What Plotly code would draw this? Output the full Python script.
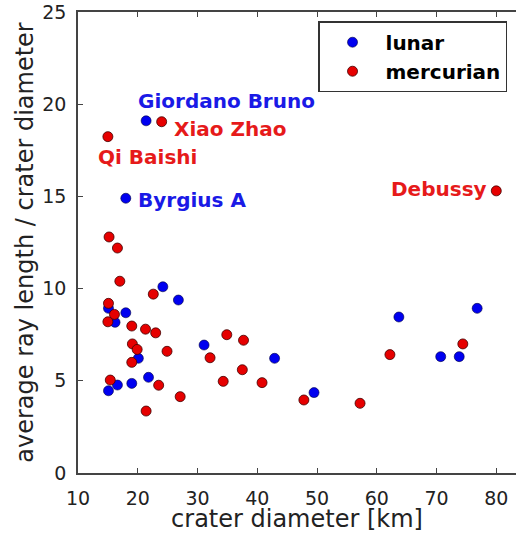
import plotly.graph_objects as go

# ---- data ----
lunar_x = [21.4, 18.0, 24.2, 26.8, 15.1, 18.0, 16.2, 31.1, 20.1, 21.8, 16.6, 19.0, 15.1,
           42.9, 63.7, 76.8, 70.7, 73.8, 49.5]
lunar_y = [19.1, 14.9, 10.1, 9.38, 8.93, 8.69, 8.17, 6.94, 6.22, 5.19, 4.77, 4.86, 4.46,
           6.22, 8.46, 8.93, 6.31, 6.31, 4.36]

merc_x = [24.0, 15.0, 80.0, 15.2, 16.6, 17.0, 22.6, 15.1, 16.1, 15.0, 19.0, 21.3, 23.0,
          19.1, 19.9, 24.9, 34.9, 37.7, 32.1, 19.0, 37.5, 15.4, 23.5, 34.3, 40.8,
          27.1, 21.4, 74.4, 62.2, 47.8, 57.2]
merc_y = [19.05, 18.24, 15.3, 12.8, 12.2, 10.4, 9.7, 9.2, 8.6, 8.2, 7.97, 7.8, 7.6,
          7.0, 6.7, 6.6, 7.5, 7.2, 6.25, 6.0, 5.6, 5.04, 4.76, 4.97, 4.9,
          4.14, 3.36, 7.0, 6.42, 3.96, 3.78]

named = ["Giordano Bruno", "Xiao Zhao", "Qi Baishi", "Byrgius A", "Debussy"]
named_body = ["lunar", "mercurian", "mercurian", "lunar", "mercurian"]
named_x = [21.4, 24.0, 15.0, 18.0, 80.0]
named_y = [19.1, 19.05, 18.24, 14.9, 15.3]

x_ticks = [10, 20, 30, 40, 50, 60, 70, 80]
y_ticks = [0, 5, 10, 15, 20, 25]

# ---- style ----
BLUE = "#0000f0"
RED = "#e60000"
TXT_BLUE = "#1a1ae6"
TXT_RED = "#e61a1a"
label_style = {  # xanchor, xshift, yshift in px
    "Giordano Bruno": ("left", -10, 20),
    "Xiao Zhao": ("left", 10, -7),
    "Qi Baishi": ("left", -12, -20),
    "Byrgius A": ("left", 10, -2),
    "Debussy": ("right", -7, 2),
}

fig = go.Figure()
fig.add_trace(go.Scatter(x=lunar_x, y=lunar_y, mode="markers", name="lunar",
                         marker=dict(color=BLUE, size=10, line=dict(color="#000040", width=0.6))))
fig.add_trace(go.Scatter(x=merc_x, y=merc_y, mode="markers", name="mercurian",
                         marker=dict(color=RED, size=10, line=dict(color="#400000", width=0.8))))

for n, b, x, y in zip(named, named_body, named_x, named_y):
    xa, xs, ys = label_style[n]
    fig.add_annotation(x=x, y=y, text=n, showarrow=False, xanchor=xa, yanchor="middle",
                       xshift=xs, yshift=ys,
                       font=dict(family="DejaVu Sans", size=20, weight="bold",
                                 color=TXT_BLUE if b == "lunar" else TXT_RED))

axis_common = dict(showline=True, linecolor="#444", linewidth=1.5,
                   ticks="inside", ticklen=5, tickwidth=1, tickcolor="#444",
                   showgrid=False, zeroline=False,
                   tickfont=dict(family="DejaVu Sans", size=19, color="#222"))

fig.update_layout(
    width=516, height=533,
    margin=dict(l=78, r=0, t=12, b=60),
    plot_bgcolor="white", paper_bgcolor="white",
    xaxis=dict(range=[10, 83.3], tickvals=x_ticks, ticklabelstandoff=7, mirror="ticks",
               title=dict(text="crater diameter [km]", standoff=5,
                          font=dict(family="DejaVu Sans", size=24, color="#222")),
               **axis_common),
    yaxis=dict(range=[0, 25], tickvals=y_ticks, ticklabelstandoff=6, mirror=False,
               title=dict(text="average ray length / crater diameter", standoff=2,
                          font=dict(family="DejaVu Sans", size=24, color="#222")),
               **axis_common),
    legend=dict(x=0.548, y=0.98, xanchor="left", yanchor="top",
                bordercolor="#333", borderwidth=1.5, bgcolor="white",
                font=dict(family="DejaVu Sans", size=20, color="black", weight="bold"),
                itemwidth=56),
    showlegend=True,
)

fig.write_html("out.html")
